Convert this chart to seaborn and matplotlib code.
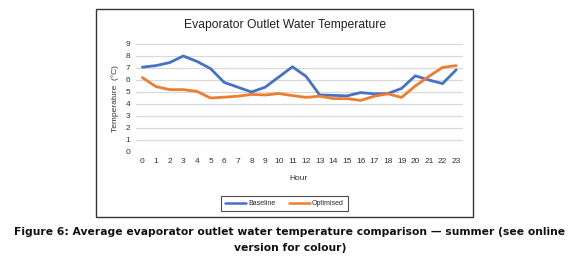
import numpy as np
import pandas as pd
import seaborn as sns
import matplotlib.pyplot as plt
from matplotlib.patches import Rectangle

# values
hours = list(range(24))
baseline = [7.07, 7.2, 7.45, 8.0, 7.55, 6.95, 5.8, 5.4, 5.0, 5.4, 6.25, 7.1,
            6.3, 4.75, 4.72, 4.68, 4.95, 4.85, 4.87, 5.3, 6.35, 6.0, 5.7, 6.85]
optimised = [6.2, 5.45, 5.2, 5.2, 5.05, 4.5, 4.57, 4.65, 4.8, 4.75, 4.87, 4.7,
             4.55, 4.65, 4.45, 4.45, 4.3, 4.65, 4.85, 4.55, 5.5, 6.3, 7.05, 7.2]
series_names = ["Baseline", "Optimised"]
colors = ["#4472C4", "#ED7D31"]
y_ticks = list(range(10))

df = pd.DataFrame({
    "Hour": hours * 2,
    "Temperature": baseline + optimised,
    "Series": [series_names[0]] * 24 + [series_names[1]] * 24,
})

sns.set_theme(style="white")
plt.rcParams['font.family'] = ['Liberation Sans', 'DejaVu Sans']

W, H = 580, 261
fig = plt.figure(figsize=(W / 100, H / 100), dpi=100)

def fx(px):
    return px / W

def fy(py):
    return 1 - py / H

# chart frame
fig.patches.append(Rectangle((fx(96), fy(217)), fx(473) - fx(96), fy(9) - fy(217),
                             transform=fig.transFigure, fill=False,
                             edgecolor="#333333", linewidth=1.0))

ax = fig.add_axes([fx(135.5), fy(152), fx(463) - fx(135.5), fy(44) - fy(152)])
sns.lineplot(data=df, x="Hour", y="Temperature", hue="Series",
             palette=dict(zip(series_names, colors)), linewidth=2.0, ax=ax,
             legend=False)

ax.set_xlim(-0.5, 23.5)
ax.set_ylim(0, 9)
ax.set_xticks(hours)
ax.set_yticks(y_ticks)
ax.tick_params(axis="both", labelsize=6, colors="#333333", length=0, pad=4)
ax.grid(axis="y", color="#D9D9D9", linewidth=0.9)
for s in ax.spines.values():
    s.set_visible(False)
ax.set_xlabel("")
ax.set_ylabel("")

fig.text(fx(115), fy(99), "Temperature  (°C)", rotation=90, ha="center", va="center",
         fontsize=6, color="#333333")
fig.text(fx(299), fy(178), "Hour", ha="center", va="center", fontsize=6, color="#333333")
fig.text(fx(285), fy(25), "Evaporator Outlet Water Temperature", ha="center", va="center",
         fontsize=8.7, color="#222222")

handles = [plt.Line2D([], [], color=c, linewidth=1.8) for c in colors]
fig.legend(handles, series_names, loc="center", bbox_to_anchor=(fx(284.5), fy(203.5)),
           ncol=2, fontsize=5, frameon=True, edgecolor="#222222", fancybox=False,
           handlelength=3, handletextpad=0.3, columnspacing=2.0,
           borderpad=0.6).get_frame().set_linewidth(0.8)

caption_1 = "Figure 6: Average evaporator outlet water temperature comparison \u2014 summer (see online"
caption_2 = "version for colour)"
fig.text(fx(290), fy(232), caption_1, ha="center", va="center", fontsize=7.75,
         fontweight="bold", family=["DejaVu Sans"], color="#111111")
fig.text(fx(290), fy(248), caption_2, ha="center", va="center", fontsize=7.75,
         fontweight="bold", family=["DejaVu Sans"], color="#111111")

fig.savefig("out.png", dpi=100)
